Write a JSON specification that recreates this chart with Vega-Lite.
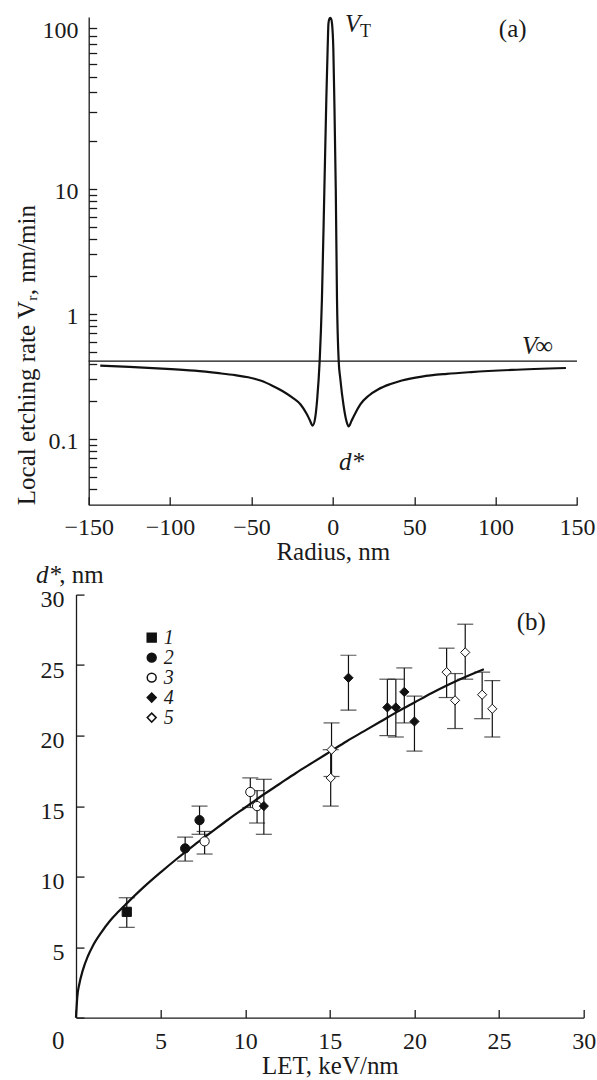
{
  "$schema": "https://vega.github.io/schema/vega-lite/v6.json",
  "background": "white",
  "padding": {"left": 14.7, "top": 12, "right": 5, "bottom": 0},
  "spacing": 89.6,
  "bounds": "flush",
  "resolve": {"legend": {"shape": "independent", "fill": "independent"}},
  "config": {
    "view": {"stroke": null},
    "font": "Liberation Serif",
    "axis": {
      "grid": false, "domainColor": "#1a1a1a", "domainWidth": 1.3,
      "tickColor": "#1a1a1a", "tickWidth": 1.3,
      "labelFont": "Liberation Serif", "labelFontSize": 24, "labelColor": "#1a1a1a",
      "titleFont": "Liberation Serif", "titleFontSize": 25, "titleFontWeight": "normal", "titleColor": "#1a1a1a",
      "labelFlush": false, "labelOverlap": false, "labelBound": false
    },
    "text": {"font": "Liberation Serif", "fontSize": 25, "color": "#1a1a1a"}
  },
  "datasets": {
    "curveA": [
      {"r": -142.9, "v": 0.386}, {"r": -125, "v": 0.377}, {"r": -105, "v": 0.366}, {"r": -85, "v": 0.352},
      {"r": -70, "v": 0.336}, {"r": -60, "v": 0.324}, {"r": -52, "v": 0.312}, {"r": -44, "v": 0.292},
      {"r": -37.5, "v": 0.268}, {"r": -31, "v": 0.242}, {"r": -25, "v": 0.215}, {"r": -19.7, "v": 0.188},
      {"r": -16.2, "v": 0.16}, {"r": -14.2, "v": 0.142}, {"r": -12.4, "v": 0.128},
      {"r": -10.8, "v": 0.149}, {"r": -9.6, "v": 0.21}, {"r": -8.1, "v": 0.42}, {"r": -6.7, "v": 1.32},
      {"r": -5.2, "v": 10}, {"r": -4.0, "v": 36.3}, {"r": -3.2, "v": 74.3}, {"r": -2.7, "v": 107},
      {"r": -2.2, "v": 114}, {"r": -1.6, "v": 116}, {"r": -1.0, "v": 114}, {"r": -0.5, "v": 107},
      {"r": 0.3, "v": 74.3}, {"r": 0.9, "v": 36.3}, {"r": 1.8, "v": 10}, {"r": 2.55, "v": 1.32},
      {"r": 3.6, "v": 0.42}, {"r": 4.6, "v": 0.302}, {"r": 6.6, "v": 0.185}, {"r": 8.3, "v": 0.14},
      {"r": 9.7, "v": 0.126}, {"r": 11.5, "v": 0.14}, {"r": 13.5, "v": 0.158}, {"r": 17, "v": 0.19},
      {"r": 22, "v": 0.222}, {"r": 28, "v": 0.25}, {"r": 35, "v": 0.274}, {"r": 42.4, "v": 0.294},
      {"r": 54.7, "v": 0.316}, {"r": 70, "v": 0.332}, {"r": 85, "v": 0.343},
      {"r": 110, "v": 0.357}, {"r": 143.2, "v": 0.37}
    ],
    "curveB": [
      {"let": 0.0, "d": 0.0}, {"let": 0.08, "d": 1.5}, {"let": 0.2, "d": 2.4}, {"let": 0.4, "d": 3.35},
      {"let": 0.7, "d": 4.35}, {"let": 1.0, "d": 5.1}, {"let": 1.5, "d": 6.05}, {"let": 2.0, "d": 6.85},
      {"let": 2.5, "d": 7.5}, {"let": 3.0, "d": 8.1}, {"let": 4.0, "d": 9.25}, {"let": 5.0, "d": 10.3},
      {"let": 6.0, "d": 11.3}, {"let": 7.0, "d": 12.25}, {"let": 8.0, "d": 13.15}, {"let": 9.0, "d": 14.05},
      {"let": 10.0, "d": 14.9}, {"let": 11.0, "d": 15.75}, {"let": 12.0, "d": 16.55}, {"let": 13.0, "d": 17.35},
      {"let": 14.0, "d": 18.1}, {"let": 15.0, "d": 18.85}, {"let": 16.0, "d": 19.6}, {"let": 17.0, "d": 20.3},
      {"let": 18.0, "d": 21.0}, {"let": 19.0, "d": 21.7}, {"let": 20.0, "d": 22.35}, {"let": 21.0, "d": 23.0},
      {"let": 22.0, "d": 23.6}, {"let": 23.0, "d": 24.15}, {"let": 24.1, "d": 24.7}
    ],
    "pts": [
      {"let": 3.0, "d": 7.5, "lo": 6.4, "hi": 8.5, "series": "1"},
      {"let": 6.45, "d": 12.0, "lo": 11.1, "hi": 12.8, "series": "2"},
      {"let": 7.3, "d": 14.0, "lo": 13.0, "hi": 15.0, "series": "2"},
      {"let": 7.6, "d": 12.5, "lo": 11.6, "hi": 13.2, "series": "3"},
      {"let": 10.3, "d": 16.0, "lo": 14.9, "hi": 17.0, "series": "3"},
      {"let": 10.7, "d": 15.0, "lo": 13.8, "hi": 16.1, "series": "3"},
      {"let": 11.1, "d": 15.0, "lo": 13.0, "hi": 16.9, "series": "4"},
      {"let": 16.1, "d": 24.1, "lo": 21.8, "hi": 25.7, "series": "4"},
      {"let": 18.4, "d": 22.0, "lo": 20.0, "hi": 24.0, "series": "4"},
      {"let": 18.9, "d": 22.0, "lo": 19.9, "hi": 24.0, "series": "4"},
      {"let": 19.4, "d": 23.1, "lo": 20.9, "hi": 24.8, "series": "4"},
      {"let": 20.0, "d": 21.0, "lo": 18.9, "hi": 22.8, "series": "4"},
      {"let": 15.1, "d": 19.0, "lo": 17.1, "hi": 20.9, "series": "5"},
      {"let": 15.05, "d": 17.0, "lo": 15.0, "hi": 19.0, "series": "5"},
      {"let": 21.9, "d": 24.5, "lo": 22.7, "hi": 26.2, "series": "5"},
      {"let": 23.0, "d": 25.9, "lo": 24.0, "hi": 27.9, "series": "5"},
      {"let": 22.4, "d": 22.5, "lo": 20.5, "hi": 24.4, "series": "5"},
      {"let": 24.0, "d": 22.9, "lo": 21.2, "hi": 24.5, "series": "5"},
      {"let": 24.6, "d": 21.9, "lo": 19.9, "hi": 23.9, "series": "5"}
    ]
  },
  "vconcat": [
    {
      "width": 488.3,
      "height": 487.7,
      "layer": [
        {
          "data": {"name": "curveA"},
          "mark": {"type": "line", "interpolate": "monotone", "color": "#111111", "strokeWidth": 2.2},
          "encoding": {
            "x": {
              "field": "r", "type": "quantitative",
              "scale": {"domain": [-150, 150], "nice": false, "zero": false},
              "axis": {"title": "Radius, nm", "values": [-150, -100, -50, 0, 50, 100, 150], "tickSize": -8, "labelPadding": 19, "titlePadding": 0}
            },
            "y": {
              "field": "v", "type": "quantitative",
              "scale": {"type": "log", "domain": [0.03, 0.1, 1, 10, 100, 117.6], "range": [487.7, 422, 297, 172, 11.3, 0], "nice": false},
              "axis": {
                "title": "Local etching rate Vᵣ, nm/min", "titleAnchor": "start", "titlePadding": 2,
                "values": [0.04, 0.05, 0.06, 0.07, 0.08, 0.09, 0.1, 0.2, 0.3, 0.4, 0.5, 0.6, 0.7, 0.8, 0.9, 1, 2, 3, 4, 5, 6, 7, 8, 9, 10, 20, 30, 40, 50, 60, 70, 80, 90, 100],
                "labelExpr": "datum.value == 100 ? '100' : datum.value == 10 ? '10' : datum.value == 1 ? '1' : datum.value == 0.1 ? '0.1' : ''",
                "tickSize": -8, "labelPadding": 18.7, "labelOffset": 2
              }
            }
          }
        },
        {
          "data": {"values": [{"r1": -150, "r2": 150, "vinf": 0.42}]},
          "mark": {"type": "rule", "color": "#111111", "strokeWidth": 1.3},
          "encoding": {
            "x": {"field": "r1", "type": "quantitative"},
            "x2": {"field": "r2"},
            "y": {"field": "vinf", "type": "quantitative"}
          }
        },
        {
          "data": {"values": [{"r": 7.46, "v": 94.4, "t": "V"}, {"r": 116.2, "v": 0.479, "t": "V"}, {"r": 3.8, "v": 0.0565, "t": "d*"}]},
          "mark": {"type": "text", "fontStyle": "italic", "align": "left", "baseline": "alphabetic", "fontSize": 25},
          "encoding": {
            "x": {"field": "r", "type": "quantitative"},
            "y": {"field": "v", "type": "quantitative"},
            "text": {"field": "t"}
          }
        },
        {
          "data": {"values": [{"r": 16.7, "v": 87.9, "t": "T"}]},
          "mark": {"type": "text", "align": "left", "baseline": "alphabetic", "fontSize": 18},
          "encoding": {
            "x": {"field": "r", "type": "quantitative"},
            "y": {"field": "v", "type": "quantitative"},
            "text": {"field": "t"}
          }
        },
        {
          "data": {"values": [{"r": 124.3, "v": 0.479, "t": "∞"}, {"r": 102, "v": 88.9, "t": "(a)"}]},
          "mark": {"type": "text", "align": "left", "baseline": "alphabetic", "fontSize": 25},
          "encoding": {
            "x": {"field": "r", "type": "quantitative"},
            "y": {"field": "v", "type": "quantitative"},
            "text": {"field": "t"}
          }
        }
      ]
    },
    {
      "width": 495,
      "height": 423,
      "layer": [
        {
          "data": {"name": "curveB"},
          "mark": {"type": "line", "interpolate": "monotone", "color": "#111111", "strokeWidth": 2.2},
          "encoding": {
            "x": {
              "field": "let", "type": "quantitative",
              "scale": {"domain": [0, 30], "range": [-12.7, 495], "nice": false, "zero": false},
              "axis": {"title": "LET, keV/nm", "values": [0, 5, 10, 15, 20, 25, 30], "labelExpr": "datum.value == 0 ? '' : datum.label", "tickSize": -8, "labelPadding": 19.5, "titlePadding": 0}
            },
            "y": {
              "field": "d", "type": "quantitative",
              "scale": {"domain": [0, 30], "nice": false, "zero": false},
              "axis": {"title": null, "values": [0, 5, 10, 15, 20, 25, 30], "labelExpr": "datum.value == 0 ? '' : datum.label", "tickSize": -8, "labelPadding": 20, "labelOffset": 5, "offset": 12.7}
            }
          }
        },
        {
          "data": {"name": "pts"},
          "mark": {"type": "rule", "color": "#111111", "strokeWidth": 1.2},
          "encoding": {
            "x": {"field": "let", "type": "quantitative"},
            "y": {"field": "lo", "type": "quantitative"},
            "y2": {"field": "hi"}
          }
        },
        {
          "data": {"name": "pts"},
          "transform": [{"fold": ["lo", "hi"], "as": ["cap", "cv"]}],
          "mark": {"type": "tick", "orient": "horizontal", "size": 16, "thickness": 1.2, "color": "#111111"},
          "encoding": {
            "x": {"field": "let", "type": "quantitative"},
            "y": {"field": "cv", "type": "quantitative"}
          }
        },
        {
          "data": {"name": "pts"},
          "mark": {"type": "point", "filled": true, "size": 85, "strokeWidth": 1, "opacity": 1},
          "encoding": {
            "x": {"field": "let", "type": "quantitative"},
            "y": {"field": "d", "type": "quantitative"},
            "stroke": {"value": "#111111"},
            "shape": {
              "field": "series", "type": "nominal",
              "scale": {"domain": ["1", "2", "3", "4", "5"], "range": ["square", "circle", "circle", "diamond", "diamond"]},
              "legend": {"title": null, "orient": "none", "legendX": 53, "legendY": 33, "labelFontStyle": "italic", "labelFontSize": 20, "labelFont": "Liberation Serif", "labelColor": "#1a1a1a", "symbolSize": 80, "rowPadding": -0.5, "labelOffset": 2, "padding": 0,
                "encode": {"symbols": {"update": {"stroke": {"value": "#111111"}, "strokeWidth": {"value": 1}}}}}
            },
            "fill": {
              "field": "series", "type": "nominal",
              "scale": {"domain": ["1", "2", "3", "4", "5"], "range": ["#111111", "#111111", "#ffffff", "#111111", "#ffffff"]},
              "legend": {"title": null, "orient": "none", "legendX": 53, "legendY": 33, "labelFontStyle": "italic", "labelFontSize": 20, "labelFont": "Liberation Serif", "labelColor": "#1a1a1a", "symbolSize": 80, "rowPadding": -0.5, "labelOffset": 2, "padding": 0,
                "encode": {"symbols": {"update": {"stroke": {"value": "#111111"}, "strokeWidth": {"value": 1}}}}}
            }
          }
        },
        {
          "data": {"values": [{"let": 26.9, "d": 27.47, "t": "(b)"}, {"let": -1.05, "d": -2.25, "t": "0"}]},
          "mark": {"type": "text", "align": "center", "baseline": "alphabetic", "fontSize": 25},
          "encoding": {
            "x": {"field": "let", "type": "quantitative"},
            "y": {"field": "d", "type": "quantitative"},
            "text": {"field": "t"}
          }
        },
        {
          "data": {"values": [{"let": -2.36, "d": 30.8, "t": "d*"}]},
          "mark": {"type": "text", "align": "left", "baseline": "alphabetic", "fontSize": 25, "fontStyle": "italic"},
          "encoding": {
            "x": {"field": "let", "type": "quantitative"},
            "y": {"field": "d", "type": "quantitative"},
            "text": {"field": "t"}
          }
        },
        {
          "data": {"values": [{"let": -0.99, "d": 30.8, "t": ", nm"}]},
          "mark": {"type": "text", "align": "left", "baseline": "alphabetic", "fontSize": 25},
          "encoding": {
            "x": {"field": "let", "type": "quantitative"},
            "y": {"field": "d", "type": "quantitative"},
            "text": {"field": "t"}
          }
        }
      ]
    }
  ]
}
